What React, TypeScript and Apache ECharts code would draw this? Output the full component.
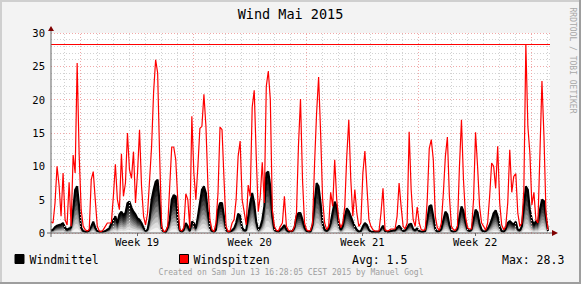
import React, { useEffect, useRef } from 'react';
import * as echarts from 'echarts';

// time step between samples (hours) and x-extent (hours, 31 days)
const STEP_HOURS = 3;
const X_MAX_HOURS = 744;

// Windmittel (mean wind), one value per 3 h
const windmittel = [
  0.4, 0.5, 0.9, 1.1, 1.2, 1.3, 1.5, 0.8, 0.5, 0.7, 0.8, 3.5, 6.5, 7, 4, 0.8, 0.3, 0.2, 0.2, 0.4,
  1, 1.7, 0.8, 0.3, 0.2, 0.2, 0.2, 0.3, 0.5, 0.7, 1.5, 2, 2.5, 1.5, 2.8, 3.2, 2.7, 3, 4.5, 4.7,
  3.8, 3.2, 2.8, 2.2, 2, 1.5, 0.8, 0.3, 0.5, 2.2, 5, 6.5, 7.7, 8, 4.5, 0.6, 0.2, 0.1, 0.8, 2,
  5, 5.7, 5.5, 2, 0.4, 0.2, 0.5, 1.5, 1, 0.3, 1.7, 1.5, 0.7, 2.5, 4.5, 6.5, 7, 6, 3, 0.8,
  0.3, 0.2, 0.5, 3.5, 4.5, 4.5, 2.5, 0.5, 0.2, 0.2, 0.4, 0.7, 1.5, 2.9, 2.6, 0.8, 0.4, 0.4, 2.5, 4.5,
  6, 4.5, 1.7, 0.5, 0.9, 2, 4, 9, 9.2, 7, 2.5, 0.5, 0.3, 0.2, 0.5, 0.8, 1.2, 0.5, 0.2, 0.2,
  0.3, 0.8, 2.5, 3, 3, 2, 0.8, 0.3, 0.2, 0.2, 1.2, 4.5, 7.5, 7, 4.5, 1.5, 0.5, 0.3, 0.6, 1.5,
  3.2, 4.7, 4, 1.5, 0.5, 1, 2.5, 3.7, 3.3, 2.5, 1.7, 1, 0.5, 0.2, 0.3, 1, 1.5, 1.2, 0.5, 0.2,
  0.2, 0.2, 0.2, 0.2, 0.6, 1.1, 0.3, 0.2, 0.2, 0.3, 0.4, 0.4, 0.8, 1.1, 0.7, 0.3, 0.4, 0.8, 1.3, 1.4,
  0.6, 0.4, 0.7, 0.3, 0.2, 0.2, 0.3, 2, 4, 4.2, 2.5, 0.6, 0.2, 0.3, 0.6, 2, 3.2, 2.8, 1.2, 0.3,
  0.2, 0.3, 0.6, 2.5, 4, 3.3, 1.6, 0.5, 0.3, 0.5, 2, 3.5, 3.1, 1.4, 0.5, 0.2, 0.3, 0.6, 1.2, 2,
  3, 3.4, 2.5, 1, 0.3, 0.2, 0.6, 1.5, 1.8, 1.5, 1.3, 1.7, 0.5, 0.4, 1, 4, 7, 6.5, 3.5, 2,
  1.2, 1.8, 1.6, 3.5, 5, 4.8, 2.5, 0.3,
];

// Windspitzen (gusts), one value per 3 h
const windspitzen = [
  1.7, 1.5, 4.5, 10, 7.2, 2.5, 9, 2, 1.2, 7.6, 1, 11.7, 9, 25.5, 11.7, 3.5, 1, 0.5, 0.3, 0.5,
  8, 9.2, 5, 1, 0.3, 0.2, 0.5, 1, 1.5, 1.5, 1.5, 5.5, 10.3, 5, 3.5, 11.9, 5.5, 7.5, 15, 9.5,
  8.2, 12.2, 4.5, 9, 15.5, 7, 2.5, 1.2, 3, 8, 13, 21.2, 26, 24, 11.5, 1, 0.2, 0.3, 1, 7,
  12.9, 12.9, 11, 5, 0.5, 0.3, 0.8, 5.9, 5, 0.7, 17.5, 9, 5, 10, 15.7, 16, 20.8, 16, 7, 2,
  0.5, 0.2, 1.5, 6, 15.9, 15.5, 8, 1, 0.2, 0.3, 1.5, 2, 5, 11.5, 13.8, 5, 3.2, 1.2, 7.2, 5.5,
  18.9, 21.4, 11.5, 3.2, 5.5, 10.6, 4.5, 22, 24.3, 20, 3.5, 1, 0.4, 0.3, 1, 1.5, 5.5, 1, 0.4, 0.3,
  0.3, 1, 3, 13.2, 20.1, 8, 1.5, 0.5, 0.3, 0.4, 1.5, 10.5, 18, 23.4, 15, 5, 1.5, 0.5, 1, 6.1,
  4, 11, 5, 2, 0.8, 1.5, 4, 11.5, 17, 8, 2.5, 6.5, 3, 1, 1.5, 9, 12.3, 7, 2, 1,
  0.5, 0.3, 0.3, 0.3, 3, 6.7, 0.5, 0.3, 0.4, 0.6, 0.6, 0.6, 2.5, 7.5, 4, 1, 0.6, 1.5, 15.2, 6.5,
  2, 1, 3.9, 1.5, 0.5, 0.4, 0.5, 5, 12.7, 14, 11, 2.5, 0.8, 0.4, 1.5, 6, 11.5, 14.4, 5.5, 1,
  0.5, 0.4, 1, 10, 17, 8, 2.5, 0.8, 0.6, 0.6, 5, 15.1, 10, 4, 1.5, 1, 0.4, 1.5, 5.5, 10.5,
  10, 6.7, 13, 4.5, 1.2, 0.5, 1, 4.5, 12.5, 6.1, 8.5, 8.9, 3, 1, 1.5, 6.5, 28.3, 16, 12, 4.2,
  6.1, 2, 1.5, 12, 22.8, 14.5, 3, 0.5,
];

const weekLabels = ['Week 19', 'Week 20', 'Week 21', 'Week 22'];
const weekLabelHours = [128.3, 296.3, 464.3, 632.3];
const weekGridHours = [44.3, 212.3, 380.3, 548.3, 716.3];
const firstDayGridHour = 20.3;
const yTicks = [0, 5, 10, 15, 20, 25, 30];

const legendNames = ['Windmittel', 'Windspitzen'];
const avgValue = 1.5;
const maxValue = 28.3;
const footerText = 'Created on Sam Jun 13 16:28:05 CEST 2015 by Manuel Gogl';
const watermark = 'RRDTOOL / TOBI OETIKER';

// shading layers for the mean-wind area (fraction of value, grey level)
const shadeLevels = [1, 0.9, 0.8, 0.7, 0.6, 0.5, 0.4, 0.3, 0.2, 0.1];
const shadeColors = ['#000000', '#141414', '#2a2a2a', '#444444', '#626262', '#828282', '#a2a2a2', '#c2c2c2', '#dedede', '#f2f2f2'];

const MONO = '"DejaVu Sans Mono", "Liberation Mono", monospace';

export default function App() {
  const ref = useRef<HTMLDivElement>(null);

  useEffect(() => {
    if (!ref.current) return;
    const chart = echarts.init(ref.current, undefined, { renderer: 'svg' });

    const toPairs = (arr: number[], k = 1) => arr.map((v, i) => [i * STEP_HOURS, v * k]);
    const dayGrid: number[] = [];
    for (let h = firstDayGridHour; h <= X_MAX_HOURS; h += 24) {
      if (!weekGridHours.some((w) => Math.abs(w - h) < 1)) dayGrid.push(h);
    }
    const peak = Math.max(...windspitzen);

    const shadeSeries = shadeLevels.map((k, idx) => ({
      type: 'line',
      data: toPairs(windmittel, k),
      symbol: 'none',
      silent: true,
      lineStyle: { width: 0 },
      areaStyle: { color: shadeColors[idx], opacity: 1 },
      z: 3,
    }));

    const option: any = {
      animation: false,
      backgroundColor: '#f3f3f3',
      title: {
        text: 'Wind Mai 2015',
        left: 'center',
        top: 7,
        padding: 0,
        textStyle: { fontFamily: MONO, fontSize: 13.5, fontWeight: 'normal', color: '#000' },
      },
      grid: {
        left: 51,
        top: 33,
        width: 499,
        height: 200,
        show: true,
        backgroundColor: '#ffffff',
        borderWidth: 0,
      },
      xAxis: {
        type: 'value',
        min: 0,
        max: X_MAX_HOURS,
        axisLine: { show: false },
        splitLine: { show: false },
        axisTick: {
          show: true,
          customValues: weekLabelHours,
          length: 3,
          lineStyle: { color: '#666' },
        },
        axisLabel: {
          customValues: weekLabelHours,
          formatter: (v: number) => {
            const idx = weekLabelHours.findIndex((w) => Math.abs(w - v) < 0.5);
            return idx >= 0 ? weekLabels[idx] : '';
          },
          fontFamily: MONO,
          fontSize: 10.5,
          color: '#000',
          margin: 3,
        },
      },
      yAxis: {
        type: 'value',
        min: yTicks[0],
        max: yTicks[yTicks.length - 1],
        interval: 5,
        axisLine: { show: false },
        axisTick: { show: false },
        axisLabel: { fontFamily: MONO, fontSize: 10.5, color: '#000', margin: 6 },
        splitLine: { show: true, lineStyle: { color: '#f0a8a8', type: [1, 2], width: 1 } },
        minorTick: { show: false, splitNumber: 5 },
        minorSplitLine: { show: true, lineStyle: { color: '#d2d2d2', type: [1, 2], width: 1 } },
      },
      series: [
        {
          type: 'line',
          data: [],
          silent: true,
          z: 1,
          markLine: {
            silent: true,
            symbol: 'none',
            label: { show: false },
            lineStyle: { color: '#d2d2d2', type: [1, 2], width: 1 },
            data: dayGrid.map((h) => ({ xAxis: h })),
          },
        },
        {
          type: 'line',
          data: [],
          silent: true,
          z: 1,
          markLine: {
            silent: true,
            symbol: 'none',
            label: { show: false },
            lineStyle: { color: '#f0a8a8', type: [1, 2], width: 1 },
            data: weekGridHours.map((h) => ({ xAxis: h })),
          },
        },
        ...shadeSeries,
        {
          name: legendNames[0],
          type: 'line',
          data: toPairs(windmittel),
          symbol: 'none',
          silent: true,
          lineStyle: { color: '#000000', width: 2 },
          z: 4,
        },
        {
          name: legendNames[1],
          type: 'line',
          data: toPairs(windspitzen),
          symbol: 'none',
          silent: true,
          lineStyle: { color: '#ff0000', width: 1.2 },
          z: 5,
          markLine: {
            silent: true,
            symbol: 'none',
            label: { show: false },
            lineStyle: { color: '#ff0000', type: 'solid', width: 1.2 },
            data: [{ yAxis: peak }],
          },
        },
      ],
      graphic: [
        // frame
        { type: 'rect', shape: { x: 0, y: 0, width: 581, height: 2 }, style: { fill: '#cfcfcf' }, silent: true },
        { type: 'rect', shape: { x: 0, y: 0, width: 2, height: 284 }, style: { fill: '#cfcfcf' }, silent: true },
        { type: 'rect', shape: { x: 579, y: 0, width: 2, height: 284 }, style: { fill: '#9e9e9e' }, silent: true },
        { type: 'rect', shape: { x: 0, y: 282, width: 581, height: 2 }, style: { fill: '#9e9e9e' }, silent: true },
        // axes
        { type: 'line', shape: { x1: 51, y1: 237, x2: 51, y2: 30 }, style: { stroke: '#666666', lineWidth: 1 }, silent: true, z: 10 },
        { type: 'line', shape: { x1: 47, y1: 233, x2: 553, y2: 233 }, style: { stroke: '#666666', lineWidth: 1 }, silent: true, z: 10 },
        { type: 'polygon', shape: { points: [[51, 26], [48, 31], [54, 31]] }, style: { fill: '#7f0000' }, silent: true, z: 10 },
        { type: 'polygon', shape: { points: [[558, 233], [552, 230], [552, 236]] }, style: { fill: '#7f0000' }, silent: true, z: 10 },
        // legend
        { type: 'rect', shape: { x: 15, y: 254.5, width: 9, height: 9 }, style: { fill: '#000000', stroke: '#000', lineWidth: 1 }, silent: true },
        { type: 'text', x: 29.5, y: 259.5, style: { text: legendNames[0], font: `11.5px ${MONO}`, fill: '#000', verticalAlign: 'middle' }, silent: true },
        { type: 'rect', shape: { x: 179.5, y: 254.5, width: 9, height: 9 }, style: { fill: '#ff0000', stroke: '#000', lineWidth: 1 }, silent: true },
        { type: 'text', x: 193.5, y: 259.5, style: { text: legendNames[1], font: `11.5px ${MONO}`, fill: '#000', verticalAlign: 'middle' }, silent: true },
        { type: 'text', x: 352, y: 259.5, style: { text: `Avg: ${avgValue.toFixed(1)}`, font: `11.5px ${MONO}`, fill: '#000', verticalAlign: 'middle' }, silent: true },
        { type: 'text', x: 502, y: 259.5, style: { text: `Max: ${maxValue.toFixed(1)}`, font: `11.5px ${MONO}`, fill: '#000', verticalAlign: 'middle' }, silent: true },
        // footer
        { type: 'text', x: 291, y: 272.5, style: { text: footerText, font: `8px ${MONO}`, fill: '#a0a0a0', align: 'center', verticalAlign: 'middle' }, silent: true },
        // watermark
        { type: 'text', x: 572.5, y: 60.5, rotation: -Math.PI / 2, style: { text: watermark, font: `8px ${MONO}`, fill: '#a8a8a8', align: 'center', verticalAlign: 'middle' }, silent: true },
      ],
    };

    chart.setOption(option);
    return () => chart.dispose();
  }, []);

  return (
    <div
      ref={ref}
      style={{ position: 'fixed', left: 0, top: 0, width: 581, height: 284 }}
    />
  );
}
